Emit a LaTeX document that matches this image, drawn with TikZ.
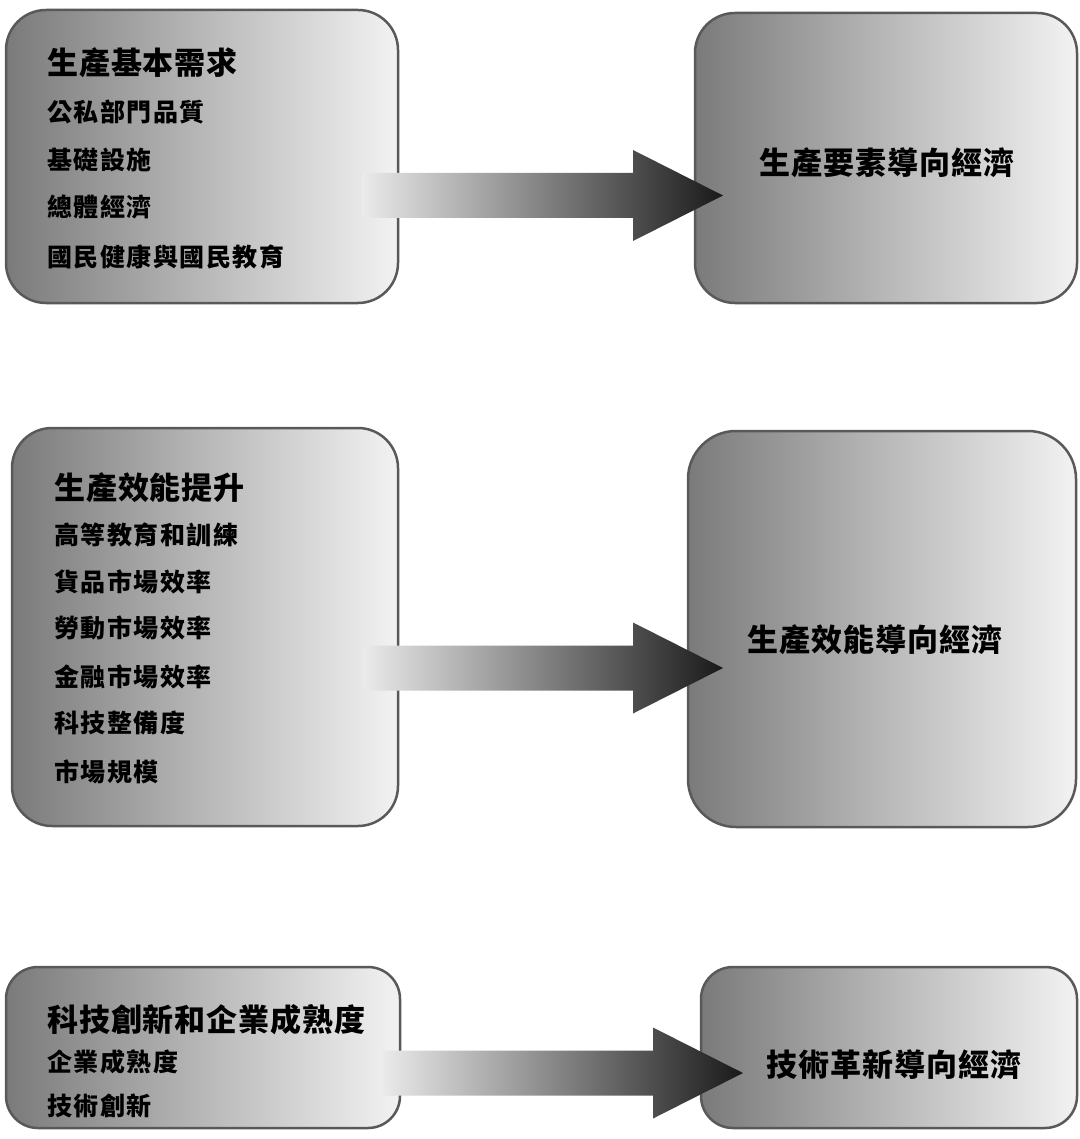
\documentclass[tikz,border=0pt]{standalone}
\usepackage{fontspec}
\newfontfamily\cjk[LetterSpace=3]{Noto Sans CJK TC}
\newfontfamily\cjkw[LetterSpace=6]{Noto Sans CJK TC}
\usetikzlibrary{calc}
\newcommand\blkarrow[2]{%
  \path[bigarrow] ($(#1)+(0,-22.5)$) -- ($(#2)+(-90,-22.5)$) -- ($(#2)+(-90,-45.5)$) -- (#2)
    -- ($(#2)+(-90,45.5)$) -- ($(#2)+(-90,22.5)$) -- ($(#1)+(0,22.5)$) -- cycle;}
\begin{document}
\begin{tikzpicture}[x=1pt,y=-1pt,
  panel/.style={draw=black!65, line width=2.5pt, rounded corners=40pt,
    left color=black!52, right color=black!5, middle color=black!28, inner sep=0pt},
  ttl/.style={font=\cjk\bfseries\fontsize{31}{36}\selectfont, anchor=west, inner sep=0pt},
  itm/.style={font=\cjkw\bfseries\fontsize{25}{30}\selectfont, anchor=west, inner sep=0pt},
  res/.style={font=\cjk\bfseries\fontsize{31}{36}\selectfont, inner sep=0pt},
  bigarrow/.style={left color=black!8, right color=black!90, draw=none}]
\useasboundingbox (0,0) rectangle (1079,1139);
% panels
\node[panel, minimum width=392pt, minimum height=293pt] (b1) at (202,156.5) {};
\node[panel, minimum width=382pt, minimum height=290pt] (r1) at (886,158) {};
\node[panel, minimum width=386pt, minimum height=398pt] (b2) at (205,627) {};
\node[panel, minimum width=388pt, minimum height=396pt, rounded corners=48pt] (r2) at (882,629) {};
\node[panel, minimum width=394pt, minimum height=161pt, rounded corners=32pt] (b3) at (203,1047.5) {};
\node[panel, minimum width=376pt, minimum height=161pt, rounded corners=32pt] (r3) at (889,1047.5) {};
% left texts
\node[ttl] (b1t) at (47,63) {生產基本需求};
\node[itm] (b1a) at (47,112) {公私部門品質};
\node[itm] (b1b) at (47,160) {基礎設施};
\node[itm] (b1c) at (47,207) {總體經濟};
\node[itm] (b1d) at (47,257) {國民健康與國民教育};
\node[ttl] (b2t) at (54,488) {生產效能提升};
\node[itm] (b2a) at (54,535) {高等教育和訓練};
\node[itm] (b2b) at (54,582) {貨品市場效率};
\node[itm] (b2c) at (54,628) {勞動市場效率};
\node[itm] (b2d) at (54,677) {金融市場效率};
\node[itm] (b2e) at (54,723) {科技整備度};
\node[itm] (b2f) at (54,772) {市場規模};
\node[ttl] (b3t) at (47,1020) {科技創新和企業成熟度};
\node[itm] (b3a) at (47,1062) {企業成熟度};
\node[itm] (b3b) at (47,1106) {技術創新};
% right texts
\node[res] (r1t) at (887,163) {生產要素導向經濟};
\node[res] (r2t) at (875,640) {生產效能導向經濟};
\node[res] (r3t) at (894,1065) {技術革新導向經濟};
% arrows
\coordinate (a1s) at (362,195.5);
\coordinate (a1e) at (723,195.5);
\coordinate (a2s) at (363,668);
\coordinate (a2e) at (723,668);
\coordinate (a3s) at (382,1073);
\coordinate (a3e) at (743,1073);
\blkarrow{a1s}{a1e}
\blkarrow{a2s}{a2e}
\blkarrow{a3s}{a3e}
\end{tikzpicture}
\end{document}
